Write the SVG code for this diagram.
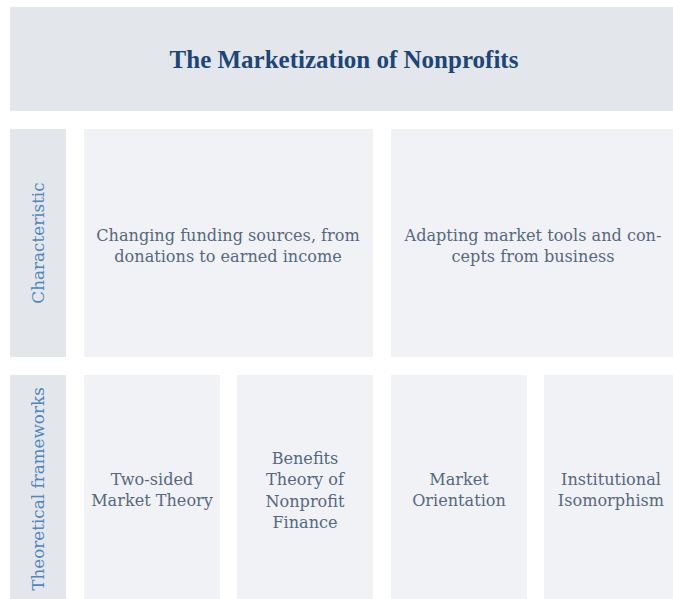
<svg xmlns="http://www.w3.org/2000/svg" width="673" height="599" viewBox="0 0 673 599">
<style>
.hdr{fill:#e3e7ec}
.card{fill:#f0f2f5}
.title{font-family:"Liberation Serif","DejaVu Serif",serif;font-size:25px;font-weight:bold;fill:#1d4677;text-anchor:middle}
.lbl{font-family:"DejaVu Serif","Liberation Serif",serif;font-size:16.8px;fill:#4f86bd;text-anchor:middle}
.txt{font-family:"DejaVu Serif","Liberation Serif",serif;font-size:16.1px;fill:#56687f;text-anchor:middle}
</style>
<rect width="673" height="599" fill="#ffffff"/>
<g id="title">
<rect class="hdr" x="10" y="7" width="663" height="104"/>
<text class="title" x="344" y="68">The Marketization of Nonprofits</text>
</g>
<g id="row-characteristic">
<rect class="hdr" x="10" y="129" width="56" height="228"/>
<text class="lbl" transform="translate(44,243) rotate(-90)">Characteristic</text>
</g>
<g id="char-funding">
<rect class="card" x="84" y="129" width="289" height="228"/>
<text class="txt" x="228" y="241">Changing funding sources, from</text>
<text class="txt" x="228" y="262">donations to earned income</text>
</g>
<g id="char-tools">
<rect class="card" x="391" y="129" width="282" height="228"/>
<text class="txt" x="533" y="241">Adapting market tools and con-</text>
<text class="txt" x="533" y="262">cepts from business</text>
</g>
<g id="row-frameworks">
<rect class="hdr" x="10" y="375" width="56" height="224"/>
<text class="lbl" transform="translate(44,489) rotate(-90)">Theoretical frameworks</text>
</g>
<g id="fw-twosided">
<rect class="card" x="84" y="375" width="136" height="224"/>
<text class="txt" x="152" y="485">Two-sided</text>
<text class="txt" x="152" y="506">Market Theory</text>
</g>
<g id="fw-benefits">
<rect class="card" x="237" y="375" width="136" height="224"/>
<text class="txt" x="305" y="464">Benefits</text>
<text class="txt" x="305" y="485">Theory of</text>
<text class="txt" x="305" y="507">Nonprofit</text>
<text class="txt" x="305" y="528">Finance</text>
</g>
<g id="fw-market">
<rect class="card" x="391" y="375" width="136" height="224"/>
<text class="txt" x="459" y="485">Market</text>
<text class="txt" x="459" y="506">Orientation</text>
</g>
<g id="fw-isomorphism">
<rect class="card" x="544" y="375" width="129" height="224"/>
<text class="txt" x="611" y="485">Institutional</text>
<text class="txt" x="611" y="506">Isomorphism</text>
</g>
<g id="connectors"/>
</svg>
